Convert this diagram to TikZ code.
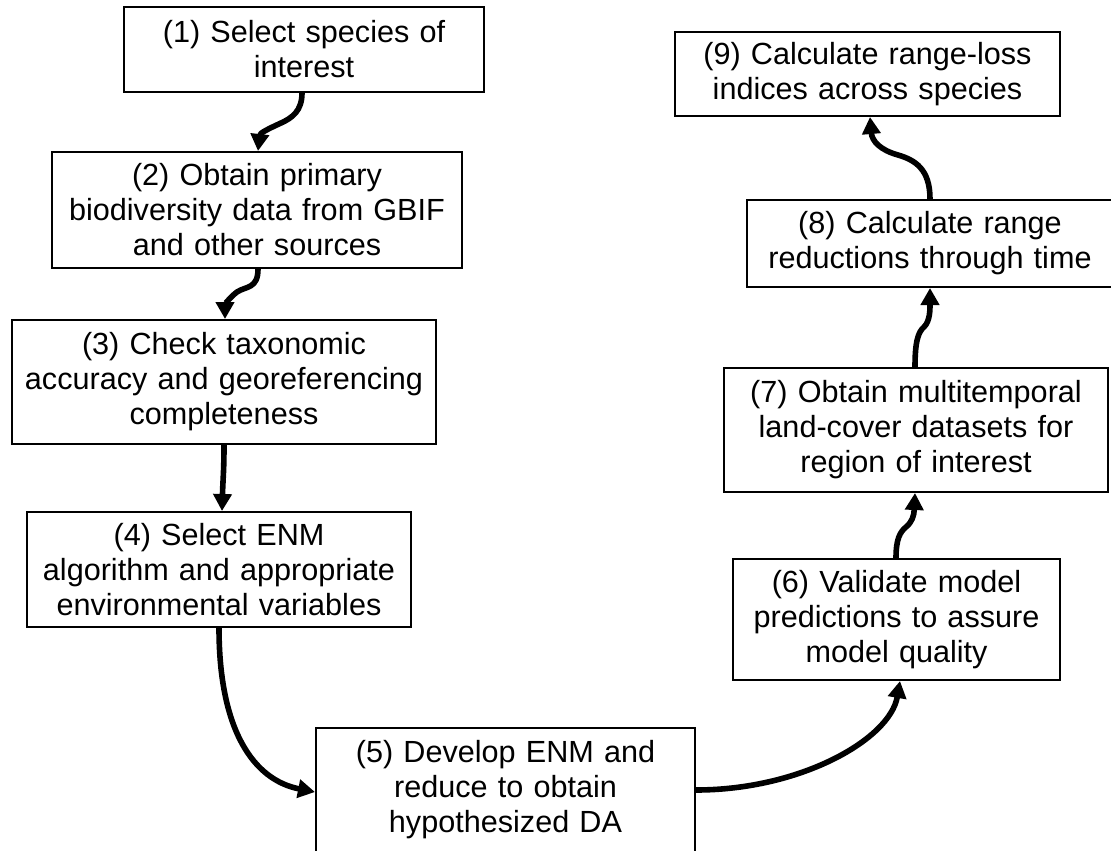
\documentclass[tikz,border=0pt]{standalone}
\usepackage{fontspec}
\setmainfont{Liberation Sans}
\usetikzlibrary{arrows.meta}
\begin{document}
\begin{tikzpicture}[x=1pt,y=-1pt,
  box/.style={draw=black,line width=2pt,inner sep=0pt,align=center,
    font=\fontsize{30.6}{35}\selectfont},
  arr/.style={line width=5.6pt,-{Triangle[length=17pt,width=18pt]}}]
\fill[white] (0,0) rectangle (1111,851);
\useasboundingbox (0,0) rectangle (1111,851);
\node[box,minimum width=360pt,minimum height=85pt,text width=350pt] (b1) at (304,49.5)
  {(1) Select species of\\interest};
\node[box,minimum width=410pt,minimum height=116pt,text width=400pt] (b2) at (257,210)
  {(2) Obtain primary\\biodiversity data from GBIF\\and other sources};
\node[box,minimum width=424pt,minimum height=124pt,text width=414pt] (b3) at (224,382)
  {(3) Check taxonomic\\accuracy and georeferencing\\completeness};
\node[box,minimum width=384pt,minimum height=115pt,text width=374pt] (b4) at (219,569.5)
  {(4) Select ENM\\algorithm and appropriate\\environmental variables};
\node[box,minimum width=379pt,minimum height=124pt,text width=369pt] (b5) at (505.5,790)
  {(5) Develop ENM and\\reduce to obtain\\hypothesized DA};
\node[box,minimum width=327pt,minimum height=121pt,text width=317pt] (b6) at (896.5,619.5)
  {(6) Validate model\\predictions to assure\\model quality};
\node[box,minimum width=384pt,minimum height=124pt,text width=374pt] (b7) at (916,430)
  {(7) Obtain multitemporal\\land-cover datasets for\\region of interest};
\node[box,minimum width=366pt,minimum height=87pt,text width=356pt] (b8) at (930,243.5)
  {(8) Calculate range\\reductions through time};
\node[box,minimum width=385pt,minimum height=84pt,text width=375pt] (b9) at (867.5,74)
  {(9) Calculate range-loss\\indices across species};
% connectors
\draw[arr] ([xshift=-2pt]b1.south) .. controls +(0,18) and (292,118) .. (281,123)
  .. controls (268,129) and +(2,-18) .. ([xshift=1pt]b2.north);
\draw[arr] ([xshift=1pt]b2.south) .. controls +(0,20) and (246,286) .. (237,292)
  .. controls (229,298) and +(0,-14) .. ([xshift=1pt]b3.north);
\draw[arr] (b3.south) .. controls +(0,26) and +(1,-34) .. ([xshift=3pt]b4.north);
\draw[arr] (b4.south) .. controls +(0,103) and +(-61,-12) .. ([yshift=-2pt]b5.west);
\draw[arr] (b5.east) .. controls +(105,0) and +(-10,58) .. ([xshift=3.5pt]b6.south);
\draw[arr] ([xshift=-0.5pt]b6.north) .. controls +(0,-19) and (900,532) .. (906,527)
  .. controls (912,522) and +(-1,23) .. ([xshift=-1pt]b7.south);
\draw[arr] ([xshift=-1pt]b7.north) .. controls +(0,-25) and (918,332) .. (924,327)
  .. controls (930,321) and +(0,22) .. (b8.south);
\draw[arr] (b8.north) .. controls +(0,-30) and (915,160) .. (898,155)
  .. controls (880,150) and +(2,24) .. ([xshift=2.5pt]b9.south);
\end{tikzpicture}
\end{document}
